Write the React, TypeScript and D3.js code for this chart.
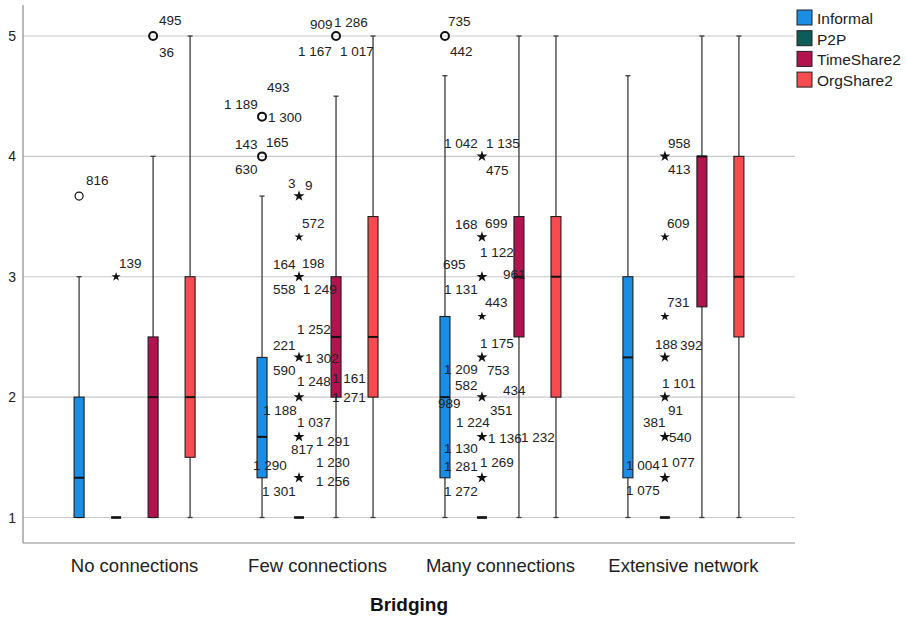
import React from "react";
import * as d3 from "d3";

const categories = ["No connections", "Few connections", "Many connections", "Extensive network"];
const series = ["Informal", "P2P", "TimeShare2", "OrgShare2"];
const colors = ["#1C8DE4", "#0C5D57", "#B3134F", "#F84B50"];
const yTicks = [1, 2, 3, 4, 5];

// [min, q1, median, q3, max] per category
const informalStats = [
  [1, 1, 1.33, 2, 3],
  [1, 1.33, 1.67, 2.33, 3.67],
  [1, 1.33, 2, 2.67, 4.67],
  [1, 1.33, 2.33, 3, 4.67],
];
const p2pStats = [
  [1, 1, 1, 1, 1],
  [1, 1, 1, 1, 1],
  [1, 1, 1, 1, 1],
  [1, 1, 1, 1, 1],
];
const timeShareStats = [
  [1, 1, 2, 2.5, 4],
  [1, 2, 2.5, 3, 4.5],
  [1, 2.5, 3, 3.5, 5],
  [1, 2.75, 4, 4, 5],
];
const orgShareStats = [
  [1, 1.5, 2, 3, 5],
  [1, 2, 2.5, 3.5, 5],
  [1, 2, 3, 3.5, 5],
  [1, 2.5, 3, 4, 5],
];
const allStats = [informalStats, p2pStats, timeShareStats, orgShareStats];

type Lab = [string, number, number];
type Outlier = { cat: number; ser: number; value: number; kind: "o" | "*"; labels: Lab[] };

const outliers: Outlier[] = [
  { cat: 0, ser: 0, value: 3.67, kind: "o", labels: [["816", 7, -16]] },
  { cat: 0, ser: 1, value: 3, kind: "*", labels: [["139", 3, -14]] },
  { cat: 0, ser: 2, value: 5, kind: "o", labels: [["495", 6, -16], ["36", 6, 16]] },

  { cat: 1, ser: 0, value: 4.33, kind: "o", labels: [["493", 5, -29], ["1 189", -38, -12], ["1 300", 6, 1]] },
  { cat: 1, ser: 0, value: 4, kind: "o", labels: [["143", -27, -12], ["165", 4, -14], ["630", -27, 13]] },
  { cat: 1, ser: 1, value: 3.67, kind: "*", labels: [["3", -11, -13], ["9", 6, -11]] },
  { cat: 1, ser: 1, value: 3.33, kind: "*", labels: [["572", 3, -14]] },
  { cat: 1, ser: 1, value: 3, kind: "*", labels: [["164", -26, -13], ["198", 3, -14], ["558", -26, 12], ["1 249", 4, 12]] },
  { cat: 1, ser: 1, value: 2.33, kind: "*", labels: [["1 252", -2, -28], ["221", -26, -12], ["1 302", 6, 1], ["590", -26, 13]] },
  { cat: 1, ser: 1, value: 2, kind: "*", labels: [["1 248", -2, -16], ["1 161", 33, -19], ["1 188", -36, 13], ["1 271", 33, 0]] },
  { cat: 1, ser: 1, value: 1.67, kind: "*", labels: [["1 037", -2, -15], ["817", -8, 12], ["1 291", 17, 4]] },
  { cat: 1, ser: 1, value: 1.33, kind: "*", labels: [["1 290", -46, -13], ["1 230", 17, -16], ["1 256", 17, 3], ["1 301", -37, 13]] },
  { cat: 1, ser: 2, value: 5, kind: "o", labels: [["909", -26, -12], ["1 286", -2, -14], ["1 167", -38, 15], ["1 017", 4, 15]] },

  { cat: 2, ser: 0, value: 5, kind: "o", labels: [["735", 3, -15], ["442", 5, 15]] },
  { cat: 2, ser: 1, value: 4, kind: "*", labels: [["1 042", -38, -13], ["1 135", 4, -13], ["475", 4, 14]] },
  { cat: 2, ser: 1, value: 3.33, kind: "*", labels: [["168", -27, -13], ["699", 3, -14], ["1 122", -2, 15]] },
  { cat: 2, ser: 1, value: 3, kind: "*", labels: [["695", -39, -13], ["1 131", -38, 12], ["961", 21, -3]] },
  { cat: 2, ser: 1, value: 2.67, kind: "*", labels: [["443", 3, -14]] },
  { cat: 2, ser: 1, value: 2.33, kind: "*", labels: [["1 175", -2, -14], ["1 209", -38, 12], ["753", 5, 13]] },
  { cat: 2, ser: 1, value: 2, kind: "*", labels: [["582", -27, -12], ["434", 21, -7], ["989", -44, 6], ["351", 8, 13]] },
  { cat: 2, ser: 1, value: 1.67, kind: "*", labels: [["1 224", -26, -15], ["1 136", 6, 1], ["1 232", 39, 0]] },
  { cat: 2, ser: 1, value: 1.33, kind: "*", labels: [["1 130", -38, -30], ["1 281", -38, -12], ["1 269", -2, -16], ["1 272", -38, 13]] },

  { cat: 3, ser: 1, value: 4, kind: "*", labels: [["958", 3, -13], ["413", 3, 13]] },
  { cat: 3, ser: 1, value: 3.33, kind: "*", labels: [["609", 2, -14]] },
  { cat: 3, ser: 1, value: 2.67, kind: "*", labels: [["731", 2, -14]] },
  { cat: 3, ser: 1, value: 2.33, kind: "*", labels: [["188", -10, -13], ["392", 15, -12]] },
  { cat: 3, ser: 1, value: 2, kind: "*", labels: [["1 101", -3, -14], ["91", 3, 13]] },
  { cat: 3, ser: 1, value: 1.67, kind: "*", labels: [["381", -22, -15], ["540", 4, 0]] },
  { cat: 3, ser: 1, value: 1.33, kind: "*", labels: [["1 004", -39, -13], ["1 077", -4, -16], ["1 075", -39, 12]] },
];

const W = 906;
const H = 619;
const plotLeft = 23;
const plotRight = 795;
const plotTop = 5;
const plotBottom = 543;
const FONT = "'Liberation Sans', Arial, sans-serif";

export default function App() {
  const x = d3.scaleBand<string>().domain(categories).range([plotLeft, plotRight]).paddingOuter(0.11).paddingInner(0);
  const inner = d3.scalePoint<string>().domain(series).range([-55.5, 55.5]);
  const y = d3.scaleLinear().domain([1, 5]).range([517.5, 36]);
  const boxW = 10;
  const capW = 5;
  const star = d3.symbol().type(d3.symbolStar);

  const cx = (c: number, s: number) => (x(categories[c]) as number) + x.bandwidth() / 2 + (inner(series[s]) as number);

  return (
    <svg width={W} height={H} style={{ position: "absolute", left: 0, top: 0, background: "#fff" }} fontFamily={FONT}>
      <rect width={W} height={H} fill="#fff" />
      {yTicks.map((t) => (
        <line key={"g" + t} x1={plotLeft} x2={plotRight} y1={y(t)} y2={y(t)} stroke="#c9c9c9" strokeWidth={1.2} />
      ))}
      <line x1={plotLeft} x2={plotLeft} y1={plotTop} y2={plotBottom} stroke="#8a8a8a" strokeWidth={1.2} />
      <line x1={plotLeft} x2={plotRight} y1={plotBottom} y2={plotBottom} stroke="#8a8a8a" strokeWidth={1.2} />
      {yTicks.map((t) => (
        <text key={"t" + t} x={16} y={y(t) + 5} textAnchor="end" fontSize={14} fill="#222">
          {t}
        </text>
      ))}
      {allStats.map((stats, s) =>
        stats.map((st, c) => {
          const [mn, q1, md, q3, mx] = st;
          const px = cx(c, s);
          return (
            <g key={`b${s}-${c}`}>
              <line x1={px} x2={px} y1={y(mx)} y2={y(mn)} stroke="#3a3a3a" strokeWidth={1.3} />
              <line x1={px - capW / 2} x2={px + capW / 2} y1={y(mx)} y2={y(mx)} stroke="#3a3a3a" strokeWidth={1.3} />
              <line x1={px - capW / 2} x2={px + capW / 2} y1={y(mn)} y2={y(mn)} stroke="#3a3a3a" strokeWidth={1.3} />
              <rect x={px - boxW / 2} y={y(q3)} width={boxW} height={Math.max(0, y(q1) - y(q3))} fill={colors[s]} stroke="#1e1e1e" strokeWidth={1.1} />
              <line x1={px - boxW / 2} x2={px + boxW / 2} y1={y(md)} y2={y(md)} stroke="#111" strokeWidth={q1 === q3 ? 2.6 : 2} />
            </g>
          );
        })
      )}
      {outliers.map((o, i) => {
        const px = cx(o.cat, o.ser);
        const py = y(o.value);
        const multi = o.labels.length > 1;
        return (
          <g key={"o" + i}>
            {o.kind === "o" ? (
              <circle cx={px} cy={py} r={4} fill="none" stroke="#111" strokeWidth={multi ? 2 : 1.2} />
            ) : (
              <path d={star.size(multi ? 38 : 26)() as string} transform={`translate(${px},${py})`} fill="#111" />
            )}
            {o.labels.map(([t, dx, dy], j) => (
              <text key={j} x={px + dx} y={py + dy + 4.8} fontSize={13.5} fill="#222">
                {t}
              </text>
            ))}
          </g>
        );
      })}
      {categories.map((c) => (
        <text key={c} x={(x(c) as number) + x.bandwidth() / 2} y={572} textAnchor="middle" fontSize={18.5} fill="#222">
          {c}
        </text>
      ))}
      <text x={409} y={611} textAnchor="middle" fontSize={19} fontWeight="bold" fill="#111">
        Bridging
      </text>
      {series.map((s, i) => (
        <g key={s} transform={`translate(797,${10 + i * 20.7})`}>
          <rect x={0} y={0} width={15} height={15} fill={colors[i]} stroke="#222" strokeWidth={1} />
          <text x={20} y={14} fontSize={15.5} fill="#222">
            {s}
          </text>
        </g>
      ))}
    </svg>
  );
}
